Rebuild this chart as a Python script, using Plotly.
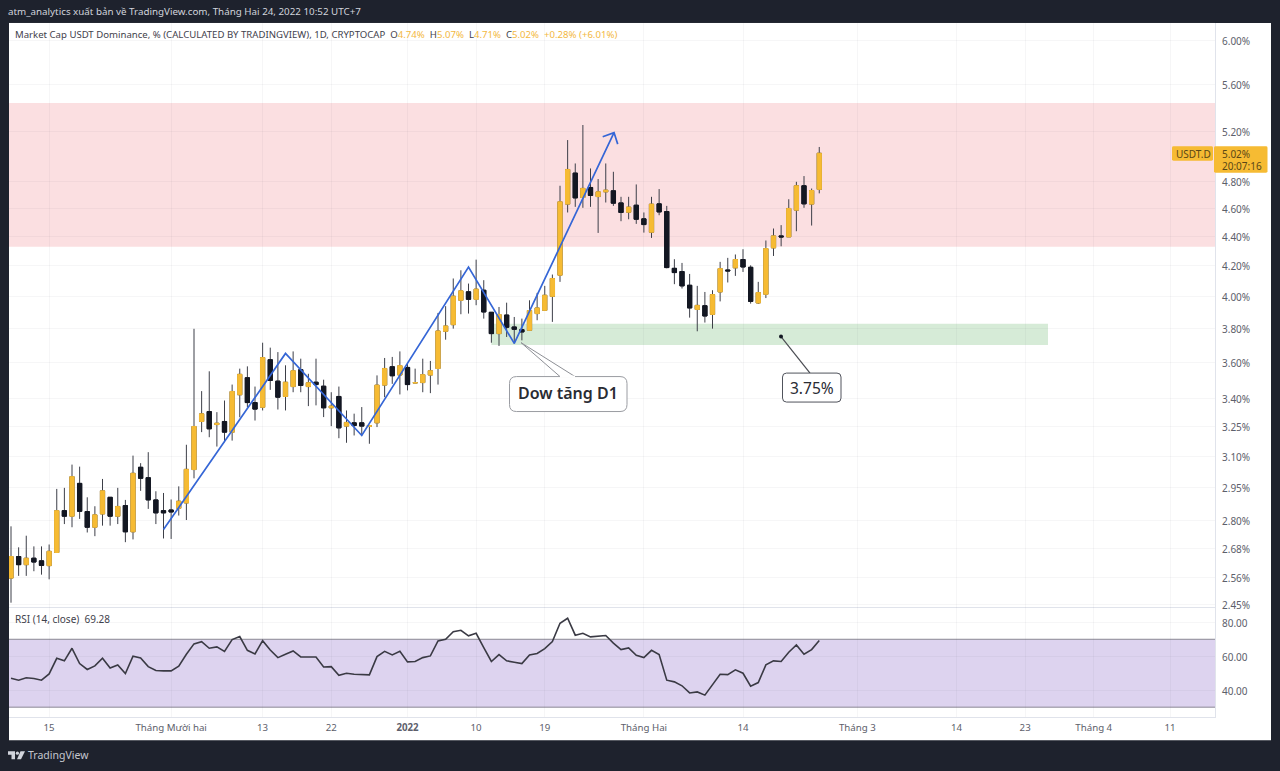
import math
import pandas as pd
import plotly.graph_objects as go

W, H = 1280, 771
FONT = "Noto Sans"

dates = pd.date_range("2021-11-10", periods=107, freq="D")

opens = [2.556,2.645,2.611,2.638,2.627,2.607,2.662,2.845,2.820,2.971,2.841,2.771,2.830,2.906,2.820,2.868,2.751,3.048,2.998,2.894,2.845,2.848,2.856,2.880,3.037,3.278,3.330,3.262,3.278,3.223,3.420,3.514,3.378,3.353,3.616,3.495,
 3.411,3.465,3.559,3.465,3.489,3.467,3.350,3.411,3.254,3.271,3.271,3.252,3.271,3.473,3.576,3.529,3.572,3.484,3.487,3.529,3.566,3.783,3.823,3.974,4.028,3.980,4.038,3.899,3.769,3.882,3.809,3.793,3.789,3.891,
 3.911,3.999,4.136,4.630,4.864,4.679,4.754,4.686,4.721,4.729,4.639,4.571,4.622,4.523,4.428,4.632,4.576,4.181,4.160,4.070,3.917,3.940,3.886,4.027,4.170,4.184,4.240,4.188,3.957,4.012,4.319,4.402,4.395,4.586,4.767,4.630,4.74]
highs = [2.775,2.684,2.734,2.688,2.688,2.696,2.945,2.950,3.061,3.051,2.906,2.865,2.992,2.906,2.950,2.894,3.105,3.068,3.122,2.934,2.926,2.896,2.957,3.159,3.798,3.440,3.550,3.327,3.389,3.476,3.565,3.578,3.465,3.715,3.686,3.660,
 3.584,3.664,3.622,3.536,3.622,3.503,3.434,3.465,3.336,3.319,3.354,3.257,3.527,3.626,3.632,3.664,3.593,3.565,3.622,3.609,3.895,3.937,4.114,4.168,4.081,4.239,4.103,3.899,3.932,3.959,3.870,3.860,3.974,4.021,
 4.066,4.140,4.767,5.126,4.939,5.250,4.900,4.818,4.939,4.874,4.684,4.684,4.777,4.569,4.684,4.742,4.617,4.242,4.217,4.144,4.066,4.027,4.038,4.224,4.251,4.274,4.310,4.201,4.092,4.370,4.454,4.478,4.666,4.797,4.841,4.746,5.07]
lows = [2.458,2.565,2.565,2.584,2.570,2.551,2.662,2.785,2.771,2.808,2.748,2.732,2.778,2.778,2.785,2.706,2.718,2.936,2.853,2.785,2.722,2.720,2.823,2.803,2.995,3.223,3.197,3.150,3.172,3.180,3.300,3.353,3.283,3.336,3.447,3.341,
 3.336,3.434,3.434,3.359,3.363,3.301,3.254,3.192,3.169,3.206,3.206,3.164,3.249,3.407,3.480,3.422,3.444,3.484,3.434,3.429,3.476,3.733,3.799,3.887,3.891,3.943,3.860,3.715,3.696,3.749,3.710,3.729,3.785,3.850,
 3.911,3.840,4.092,4.569,4.610,4.603,4.610,4.423,4.642,4.617,4.506,4.520,4.487,4.425,4.388,4.549,4.181,4.077,4.049,3.866,3.783,3.836,3.799,3.967,4.088,4.131,4.157,3.953,3.951,3.988,4.264,4.330,4.395,4.435,4.603,4.475,4.71]
closes = [2.645,2.611,2.638,2.622,2.608,2.667,2.845,2.820,3.003,2.842,2.771,2.826,2.936,2.820,2.864,2.751,3.019,2.995,2.894,2.835,2.835,2.839,2.888,3.038,3.252,3.318,3.240,3.269,3.223,3.438,3.533,3.378,3.343,3.628,3.499,3.407,
 3.489,3.553,3.471,3.486,3.476,3.350,3.359,3.245,3.273,3.257,3.254,3.257,3.473,3.566,3.525,3.582,3.476,3.487,3.531,3.553,3.785,3.815,4.000,4.034,3.980,4.045,3.901,3.769,3.885,3.807,3.795,3.779,3.910,3.926,
 4.006,4.114,4.647,4.892,4.676,4.747,4.694,4.721,4.734,4.637,4.569,4.608,4.520,4.482,4.630,4.573,4.186,4.153,4.066,3.926,3.942,3.876,4.010,4.179,4.164,4.240,4.190,3.967,4.023,4.314,4.402,4.395,4.598,4.767,4.632,4.731,5.02]

rsi = [47.1,45.9,47.3,46.9,45.9,49.6,58.8,57.3,64.7,55.7,52.2,54.3,58.8,53.1,54.9,49.8,60.0,59.0,53.9,51.6,51.4,51.4,54.1,61.2,67.3,68.6,64.7,65.5,62.9,69.8,71.6,63.5,61.4,69.2,63.7,59.2,61.2,63.1,59.6,59.8,59.6,53.7,53.9,48.8,50.0,49.4,49.0,49.0,59.8,62.9,60.8,62.9,56.7,56.9,
 59.2,60.2,69.0,70.0,74.5,75.3,72.0,73.5,65.1,56.9,61.0,57.3,56.5,55.7,60.8,61.6,64.5,68.6,79.4,82.4,72.4,73.5,71.4,72.0,72.2,67.7,63.9,64.9,60.6,59.2,63.5,61.0,45.9,44.9,42.6,38.4,39.0,37.1,43.3,49.4,49.2,52.0,50.0,42.4,44.5,54.9,57.3,56.9,62.4,66.7,61.2,63.9,69.28]

zig_dates = ["2021-11-30","2021-12-16","2021-12-26","2022-01-09","2022-01-15","2022-01-28 02:00"]
zig_prices = [2.761,3.652,3.206,4.189,3.711,5.187]
head_dates = ["2022-01-26 14:24","2022-01-28 02:00","2022-01-28 13:40"]
head_prices = [5.153,5.187,5.093]

sell_zone = (4.327, 5.436)
buy_zone = (3.702, 3.829)
buy_zone_dates = ("2022-01-12", "2022-03-26")

price_ticks = [6.00,5.60,5.20,4.80,4.60,4.40,4.20,4.00,3.80,3.60,3.40,3.25,3.10,2.95,2.80,2.68,2.56,2.45]
rsi_ticks = [80,60,40]
x_tick_dates = ["2021-11-15","2021-12-01","2021-12-13","2021-12-22","2022-01-01","2022-01-10","2022-01-19","2022-02-01","2022-02-14","2022-03-01","2022-03-14","2022-03-23","2022-04-01","2022-04-11"]
x_tick_text = ["15","Tháng Mười hai","13","22","<b>2022</b>","10","19","Tháng Hai","14","Tháng 3","14","23","Tháng 4","11"]

UP = "#f6bb33"
DOWN = "#131722"
WICK = "#3d3f48"
GRID = "rgba(70,75,90,0.05)"
AXIS = "#e0e3eb"
TXT = "#5d606b"

VSCALE = 1.0054


def X(p):
    return p / W


def Y(p):
    return 1 - p * VSCALE / H


def rrect(x0, y0, x1, y1, r):
    a, b, c, d = X(x0), X(x1), Y(y0), Y(y1)
    rx, ry = r / W, r / H
    return (f"M {a+rx} {c} L {b-rx} {c} Q {b} {c} {b} {c-ry} L {b} {d+ry} Q {b} {d} {b-rx} {d} "
            f"L {a+rx} {d} Q {a} {d} {a} {d+ry} L {a} {c-ry} Q {a} {c} {a+rx} {c} Z")


def poly(pts):
    return "M " + " L ".join(f"{X(a)} {Y(b)}" for a, b in pts) + " Z"


fig = go.Figure()

hi_body = [max(a, b) for a, b in zip(opens, closes)]
lo_body = [min(a, b) for a, b in zip(opens, closes)]

# wicks
fig.add_trace(go.Candlestick(
    x=dates, open=opens, high=highs, low=lows, close=closes,
    increasing=dict(line=dict(color=WICK, width=1), fillcolor=WICK),
    decreasing=dict(line=dict(color=WICK, width=1), fillcolor=WICK),
    whiskerwidth=0, showlegend=False, hoverinfo="skip"))
# bodies
fig.add_trace(go.Candlestick(
    x=dates, open=opens, high=hi_body, low=lo_body, close=closes,
    increasing=dict(line=dict(color=UP, width=1), fillcolor=UP),
    decreasing=dict(line=dict(color=DOWN, width=1), fillcolor=DOWN),
    whiskerwidth=0, showlegend=False, hoverinfo="skip"))

BLUE = "#3566d6"
fig.add_trace(go.Scatter(x=zig_dates, y=zig_prices, mode="lines", line=dict(color=BLUE, width=1.7),
                         showlegend=False, hoverinfo="skip"))
fig.add_trace(go.Scatter(x=head_dates, y=head_prices, mode="lines", line=dict(color=BLUE, width=1.7),
                         showlegend=False, hoverinfo="skip"))

fig.add_trace(go.Scatter(x=dates, y=rsi, mode="lines", xaxis="x2", yaxis="y2",
                         line=dict(color="#3a3a44", width=1.6), showlegend=False, hoverinfo="skip"))

shapes = [
    dict(type="rect", xref="paper", yref="paper", x0=X(9), x1=X(1271), y0=Y(741), y1=Y(23),
         fillcolor="white", line_width=0, layer="below"),
    dict(type="rect", xref="paper", yref="y", x0=X(9), x1=X(1215), y0=sell_zone[0], y1=sell_zone[1],
         fillcolor="#fbdfe1", line_width=0, layer="below"),
    dict(type="rect", xref="x", yref="y", x0=buy_zone_dates[0], x1=buy_zone_dates[1], y0=buy_zone[0], y1=buy_zone[1],
         fillcolor="#d6ebd7", line_width=0, layer="below"),
    dict(type="rect", xref="paper", yref="y2", x0=X(9), x1=X(1215), y0=30, y1=70,
         fillcolor="#ddd3ef", line=dict(width=0), layer="below"),
    dict(type="line", xref="paper", yref="y2", x0=X(9), x1=X(1215), y0=70, y1=70,
         line=dict(color="#8b8894", width=1), layer="below"),
    dict(type="line", xref="paper", yref="y2", x0=X(9), x1=X(1215), y0=30, y1=30,
         line=dict(color="#8b8894", width=1), layer="below"),
    # callouts
    dict(type="path", xref="paper", yref="paper", path=poly([(521, 343), (560, 377), (575, 377)]),
         fillcolor="white", line=dict(color="#8e9096", width=1)),
    dict(type="path", xref="paper", yref="paper", path=rrect(509.5, 377, 627, 412, 7),
         fillcolor="white", line=dict(color="#9a9ca2", width=1)),
    dict(type="line", xref="paper", yref="paper", x0=X(560), x1=X(575), y0=Y(377), y1=Y(377),
         line=dict(color="white", width=2)),
    dict(type="line", xref="paper", yref="paper", x0=X(781), x1=X(810), y0=Y(337), y1=Y(373.5),
         line=dict(color="#4a4c52", width=1.2)),
    dict(type="circle", xref="paper", yref="paper", x0=X(779), x1=X(783), y0=Y(339), y1=Y(335),
         fillcolor="#131722", line_width=0),
    dict(type="path", xref="paper", yref="paper", path=rrect(782.5, 373.5, 841, 402.5, 4),
         fillcolor="white", line=dict(color="#50535c", width=1)),
    # price label
    dict(type="path", xref="paper", yref="paper", path=rrect(1172, 146.5, 1213, 161, 1.5),
         fillcolor=UP, line_width=0),
    dict(type="path", xref="paper", yref="paper", path=rrect(1214, 146.5, 1267.5, 173, 1.5),
         fillcolor=UP, line_width=0),
    # logo
    dict(type="path", xref="paper", yref="paper",
         path=poly([(8, 752), (15, 752), (15, 760), (11.5, 760), (11.5, 755.5), (8, 755.5)]),
         fillcolor="#d1d4dc", line_width=0),
    dict(type="circle", xref="paper", yref="paper", x0=X(15.8), x1=X(19), y0=Y(755.6), y1=Y(752.4),
         fillcolor="#d1d4dc", line_width=0),
    dict(type="path", xref="paper", yref="paper", path=poly([(20.5, 752), (25, 752), (21, 760), (17, 760)]),
         fillcolor="#d1d4dc", line_width=0),
]


def note(px, py, text, size, color, anchor="left", **fontkw):
    shift = 2 if anchor == "left" else 0
    return dict(xref="paper", yref="paper", x=X(px - shift), y=Y(py), text=text, showarrow=False,
                xanchor=anchor, yanchor="middle", align=anchor,
                font=dict(family=FONT, size=size, color=color, **fontkw))


AMB = "#f3b83f"
legend = ("Market Cap USDT Dominance, % (CALCULATED BY TRADINGVIEW), 1D, CRYPTOCAP  "
          f"O<span style='color:{AMB}'>4.74%</span>  H<span style='color:{AMB}'>5.07%</span>  "
          f"L<span style='color:{AMB}'>4.71%</span>  C<span style='color:{AMB}'>5.02%</span>  "
          f"<span style='color:{AMB}'>+0.28% (+6.01%)</span>").replace("  ", "\u00a0\u00a0")

annotations = [
    note(8, 12, "atm_analytics xuất bản về TradingView.com, Tháng Hai 24, 2022 10:52 UTC+7", 9.8, "#d1d4dc"),
    note(15, 35, legend, 9.6, "#3f424c"),
    note(15, 620, "RSI (14, close)\u00a0\u00a069.28", 10, "#3f424c"),
    note(568, 393.5, "Dow tăng D1", 16, "#2a2c33", anchor="center", weight=600),
    note(811.5, 388.5, "3.75%", 15.5, "#2a2c33", anchor="center"),
    note(1176, 154, "USDT.D", 10, "#5a4716"),
    note(1222, 154, "5.02%", 10, "#5a4716"),
    note(1222, 166, "20:07:16", 10, "#5a4716"),
    note(28, 756, "TradingView", 10.5, "#c4c7cf"),
]

fig.update_layout(
    width=W, height=H, margin=dict(l=0, r=0, t=0, b=0), autosize=False,
    paper_bgcolor="#1e222d", plot_bgcolor="white",
    font=dict(family=FONT, size=10, color=TXT), showlegend=False, boxgap=0.2,
    shapes=shapes, annotations=annotations,
    xaxis=dict(domain=[X(9), X(1215)], anchor="y", matches="x2", showticklabels=False, type="date",
               tickmode="array", tickvals=x_tick_dates, ticks="", showgrid=True, gridcolor=GRID, gridwidth=1,
               showline=True, linecolor=AXIS, rangeslider=dict(visible=False), zeroline=False),
    yaxis=dict(domain=[Y(608), Y(23)], anchor="x", side="right", type="log",
               range=[math.log10(2.44), math.log10(6.174)],
               tickmode="array", tickvals=price_ticks, ticktext=[f"{v:.2f}%" for v in price_ticks],
               ticks="", ticklabelstandoff=4, ticklabelshift=1, showgrid=True, gridcolor=GRID, showline=True, linecolor=AXIS,
               tickfont=dict(family=FONT, size=10, color=TXT), zeroline=False),
    xaxis2=dict(domain=[X(9), X(1215)], anchor="y2", type="date",
                range=["2021-11-09 17:42", "2022-04-16 21:36"],
                tickmode="array", tickvals=x_tick_dates, ticktext=x_tick_text, ticks="",
                tickfont=dict(family=FONT, size=9.7, color=TXT), showgrid=True, gridcolor=GRID,
                showline=True, linecolor=AXIS, zeroline=False, ticklabelstandoff=1),
    yaxis2=dict(domain=[Y(718), Y(608)], anchor="x2", side="right", range=[24.1, 88.82],
                tickmode="array", tickvals=rsi_ticks, ticktext=[f"{v:.2f}" for v in rsi_ticks],
                ticks="", ticklabelstandoff=4, ticklabelshift=1, showgrid=True, gridcolor=GRID, showline=True, linecolor=AXIS,
                tickfont=dict(family=FONT, size=10, color=TXT), zeroline=False),
)

fig.write_html("out.html", config=dict(displayModeBar=False),
               post_script=("var s=document.documentElement.style,b=document.body.style;"
                            "s.margin='0';s.height='771px';s.overflow='hidden';"
                            "b.margin='0';b.height='771px';b.overflow='hidden';b.lineHeight='0';b.fontSize='0';"
                            "var g=document.querySelector('.plotly-graph-div');g.style.display='block';"
                            "g.parentElement.style.height='771px';g.parentElement.style.overflow='hidden';"))
